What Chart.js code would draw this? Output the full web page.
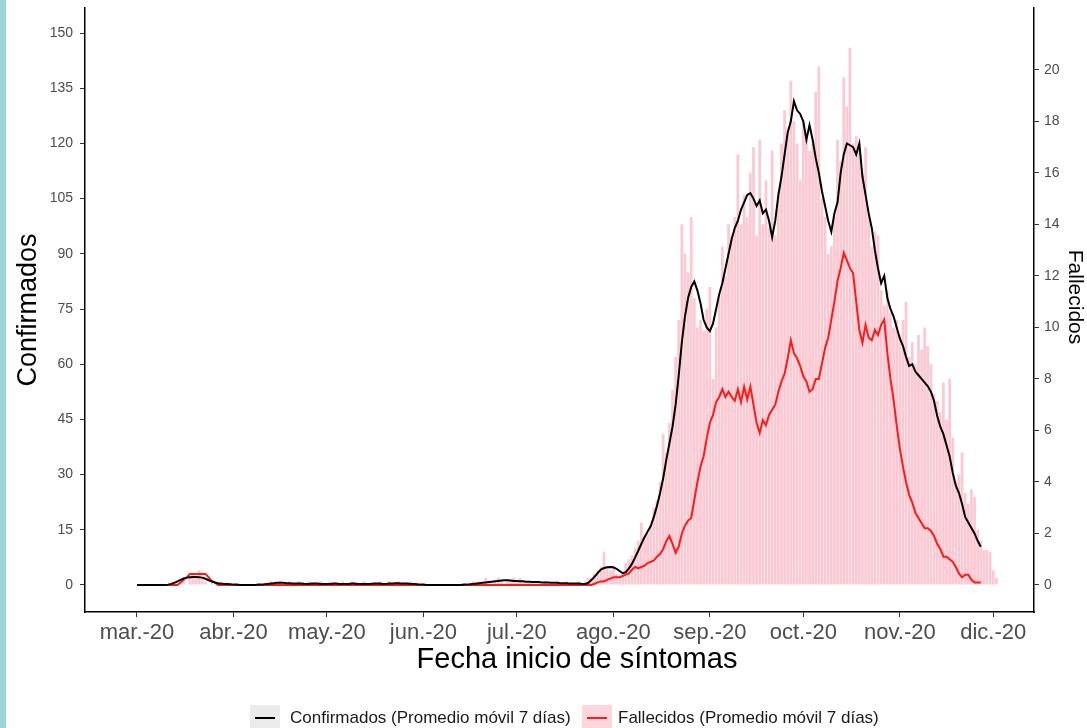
<!DOCTYPE html>
<html><head><meta charset="utf-8">
<script src="https://cdn.jsdelivr.net/npm/chart.js@4/dist/chart.umd.min.js"></script>
<style>
html,body{margin:0;padding:0;background:#fff;overflow:hidden}
#wrap{position:relative;width:1087px;height:728px}
#strip{position:absolute;left:0;top:0;width:6px;height:728px;background:#9dd3d5}
canvas{display:block}
</style></head><body>
<div id="wrap"><canvas id="c" width="1087" height="728"></canvas><div id="strip"></div></div>
<script>
// Day 0 = 2020-03-01
const monthLabels = ['mar.-20','abr.-20','may.-20','jun.-20','jul.-20','ago.-20','sep.-20','oct.-20','nov.-20','dic.-20'];
const monthStartDays = [0,31,61,92,122,153,184,214,245,275];
const leftTicks = [0,15,30,45,60,75,90,105,120,135,150];
const rightTicks = [0,2,4,6,8,10,12,14,16,18,20];
const legendLabels = ['Confirmados (Promedio móvil 7 días)','Fallecidos (Promedio móvil 7 días)'];
const xTitle = 'Fecha inicio de síntomas';
const yTitle = 'Confirmados';
const y2Title = 'Fallecidos';

// Confirmados, promedio móvil 7 días (por mes)
const confMar = [0,0,0,0,0,0,0,0,0,0,0.1,0.3,0.6,1.0,1.4,1.8,2.0,2.1,2.2,2.2,2.1,2.0,1.7,1.3,1.0,0.7,0.5,0.4,0.3,0.3,0.2];
const confApr = [0.1,0.1,0,0,0,0,0,0,0.1,0.1,0.2,0.3,0.4,0.5,0.6,0.6,0.6,0.5,0.5,0.4,0.4,0.4,0.4,0.3,0.3,0.4,0.4,0.4,0.3,0.3];
const confMay = [0.3,0.3,0.4,0.4,0.3,0.3,0.3,0.3,0.4,0.4,0.3,0.3,0.3,0.3,0.3,0.4,0.4,0.4,0.3,0.3,0.4,0.4,0.5,0.5,0.4,0.4,0.4,0.3,0.3,0.2,0.1];
const confJun = [0.1,0,0,0,0,0,0,0,0,0,0,0,0,0.1,0.1,0.2,0.3,0.4,0.5,0.6,0.7,0.8,0.9,1.0,1.1,1.2,1.3,1.3,1.2,1.1];
const confJul = [1.1,1.0,1.0,0.9,0.9,0.8,0.8,0.8,0.7,0.7,0.7,0.6,0.6,0.6,0.5,0.5,0.5,0.4,0.4,0.4,0.4,0.3,0.3,0.6,1.4,2.3,3.3,4.2,4.6,4.8,4.9];
const confAug = [4.8,4.4,3.8,3.2,3.5,4.5,5.8,7.5,9.3,11.2,13.0,14.5,16,18.5,21.5,25,29,34,38.5,43,49,57,66,73,78,81,82.5,80,76.5,72,70];
const confSep = [69,71,75,79,82,86,90,94,97,99,102,104,106,106.5,105,103,104.5,101,102,99,94.5,99,106,111,117,123,126,131.5,129,128];
const confOct = [126,121,125,121,116,112,107,103,99,96,101,104,112,117,120,119.5,119,117,120,111,106,101,97,91,86,82,84,78,75,73,70];
const confNov = [67,65,62,59.5,60,58,57,56,55,54,52.5,50,46,43,41,38,35,30.5,27,25,22,18.5,17,15.5,14,12,10.4];

// Fallecidos, promedio móvil 7 días (por mes)
const deadMar = [0,0,0,0,0,0,0,0,0,0,0,0,0,0,0.1,0.2,0.3,0.43,0.43,0.43,0.43,0.43,0.43,0.3,0.14,0.1,0,0,0,0,0];
const deadApr = [0,0,0,0,0,0,0,0,0,0,0,0,0,0,0,0,0,0,0,0,0,0,0,0,0,0,0,0,0,0];
const deadMay = [0,0,0,0,0,0,0,0,0,0,0,0,0,0,0,0,0,0,0,0,0,0,0,0,0,0,0,0,0,0,0];
const deadJun = [0,0,0,0,0,0,0,0,0,0,0,0,0,0,0,0,0,0,0,0,0,0,0,0,0,0,0,0,0,0];
const deadJul = [0,0,0,0,0,0,0,0,0,0,0,0,0,0,0,0,0,0,0,0,0,0,0,0,0,0.05,0.1,0.14,0.14,0.2,0.25];
const deadAug = [0.3,0.3,0.3,0.35,0.4,0.45,0.6,0.7,0.65,0.7,0.75,0.85,0.9,0.95,1.1,1.2,1.4,1.7,1.9,1.6,1.25,1.5,2.0,2.3,2.5,2.6,3.3,4.0,4.6,5.0,5.7];
const deadSep = [6.3,6.6,7.1,7.3,7.6,7.3,7.5,7.3,7.15,7.6,7.1,7.7,7.2,7.7,7.0,6.3,5.9,6.4,6.2,6.6,6.8,7.0,7.5,7.9,8.2,8.8,9.5,9.0,8.8,8.5];
const deadOct = [8.1,7.9,7.5,7.6,8.0,8.0,8.6,9.2,9.6,10.3,11.0,11.8,12.3,12.9,12.6,12.3,12.1,11.0,9.9,9.4,10.1,9.6,9.5,9.9,9.7,10.1,10.3,9.0,8.0,7.2,6.2];
const deadNov = [5.3,4.6,4.0,3.5,3.2,2.8,2.6,2.4,2.2,2.2,2.1,1.9,1.6,1.4,1.1,1.1,1.0,0.9,0.7,0.45,0.3,0.4,0.4,0.2,0.1,0.1,0.1];

// Barras diarias (eje izquierdo)
const barMar = [0,0,0,0,0,0,0,0,0,0,0,0,0,0,0,1,0,2,3,2,4,2,1,0,1,0,0,0,0,0,0];
const barApr = [0,0,0,0,0,0,0,0,0,0,0,0,1,0,1,1,0,0,1,0,0,1,0,0,1,0,0,0,1,0];
const barMay = [0,1,0,0,0,1,0,0,1,0,0,0,1,0,0,0,0,1,0,0,1,0,0,1,0,0,0,1,0,0,0];
const barJun = [0,0,0,0,0,0,0,0,0,0,0,0,0,0,0,0,1,0,1,0,2,1,0,1,2,1,0,1,1,2];
const barJul = [1,2,1,0,1,1,0,1,0,1,1,0,0,1,0,0,1,0,0,0,1,0,1,2,2,3,4,5,9,5,4];
const barAug = [5,3,2,3,6,7,8,10,12,17,13,14,16,21,23,28,41,36,44,53,62,72,98,90,85,100,78,70,72,69,75];
const barSep = [81,56,70,78,92,84,98,95,100,117,98,106,100,112,119,95,121,98,110,97,118,95,107,120,129,124,137,126,120,110];
const barOct = [126,122,118,120,134,141,105,100,90,92,100,121,115,138,130,146,120,122,118,112,119,100,92,96,95,80,76,80,74,70,72];
const barNov = [68,72,77,62,66,60,68,64,70,65,60,52,50,47,55,45,56,40,28,30,36,25,22,26,24,15,12,9.5,9.5,9];
const barDec = [4,2];

const confAvg = [].concat(confMar,confApr,confMay,confJun,confJul,confAug,confSep,confOct,confNov);
const deadAvg = [].concat(deadMar,deadApr,deadMay,deadJun,deadJul,deadAug,deadSep,deadOct,deadNov);
const dailyBars = [].concat(barMar,barApr,barMay,barJun,barJul,barAug,barSep,barOct,barNov,barDec);

const toPts = arr => arr.map((v,i)=>({x:i,y:v}));
const FONT = '"Liberation Sans", Arial, sans-serif';

const textPlugin = {
  id:'customText',
  afterDraw(chart){
    const ctx = chart.ctx;
    ctx.save();
    // x title
    ctx.fillStyle = '#000';
    ctx.textAlign = 'center';
    ctx.textBaseline = 'middle';
    ctx.font = '29px ' + FONT;
    ctx.fillText(xTitle, 577, 660);
    // right title (rotated)
    ctx.save();
    ctx.translate(1075, 297);
    ctx.rotate(Math.PI/2);
    ctx.font = '21px ' + FONT;
    ctx.fillText(y2Title, 0, 0);
    ctx.restore();
    // legend
    const y = 718;
    const items = [
      {label:legendLabels[0], color:'#000000', box:'#ebebeb', bx:250, tx:290},
      {label:legendLabels[1], color:'#ff1a1a', box:'#fbd6dd', bx:582, tx:618}
    ];
    ctx.font = '17px ' + FONT;
    ctx.textAlign = 'left';
    items.forEach(it=>{
      ctx.fillStyle = it.box;
      ctx.fillRect(it.bx, y-13, 30, 26);
      ctx.strokeStyle = it.color;
      ctx.lineWidth = 2;
      ctx.beginPath();
      ctx.moveTo(it.bx+5, y); ctx.lineTo(it.bx+25, y);
      ctx.stroke();
      ctx.fillStyle = '#1a1a1a';
      ctx.fillText(it.label, it.tx, y);
    });
    ctx.restore();
  }
};

new Chart(document.getElementById('c'), {
  type:'bar',
  data:{
    datasets:[
      {type:'line', label:legendLabels[0], data:toPts(confAvg), yAxisID:'y', borderColor:'#000000', borderWidth:2, pointRadius:0, tension:0, order:1},
      {type:'line', label:legendLabels[1], data:toPts(deadAvg), yAxisID:'y2', borderColor:'#ff1a1a', borderWidth:2, pointRadius:0, tension:0, order:2},
      {type:'bar', label:'Diarios', data:toPts(dailyBars), yAxisID:'y', backgroundColor:'#fcc9d3', borderWidth:0, barPercentage:0.88, categoryPercentage:1, order:3}
    ]
  },
  options:{
    responsive:false, animation:false, devicePixelRatio:1,
    layout:{padding:{top:8,bottom:55,left:0,right:0}},
    plugins:{legend:{display:false}, tooltip:{enabled:false}},
    scales:{
      x:{
        type:'linear', min:-16.7, max:288.1, offset:false,
        afterBuildTicks:s=>{ s.ticks = monthStartDays.map(v=>({value:v})); },
        afterFit:s=>{ s.height = 61; s.paddingLeft = 0; s.paddingRight = 0; },
        ticks:{callback:(v,i)=>monthLabels[i], font:{size:22,family:FONT}, color:'#4d4d4d', padding:3, maxRotation:0, autoSkip:false},
        grid:{drawOnChartArea:false, tickLength:5, color:'#333', lineWidth:1, offset:false},
        border:{display:true, color:'#000', width:1.5},
        title:{display:false}
      },
      y:{
        position:'left', min:-7.34, max:156.8,
        afterBuildTicks:s=>{ s.ticks = leftTicks.map(v=>({value:v})); },
        afterFit:s=>{ s.width = 85; s.paddingTop = 0; s.paddingBottom = 0; },
        ticks:{font:{size:14,family:FONT}, color:'#4d4d4d', padding:7},
        grid:{drawOnChartArea:false, tickLength:5, color:'#333', lineWidth:1},
        border:{display:true, color:'#000', width:1.5},
        title:{display:true, text:yTitle, font:{size:27,family:FONT}, color:'#000', padding:{top:12,bottom:0}}
      },
      y2:{
        position:'right', min:-7.34/7, max:156.8/7,
        afterBuildTicks:s=>{ s.ticks = rightTicks.map(v=>({value:v})); },
        afterFit:s=>{ s.width = 53; s.paddingTop = 0; s.paddingBottom = 0; },
        ticks:{font:{size:14,family:FONT}, color:'#4d4d4d', padding:5},
        grid:{drawOnChartArea:false, tickLength:5, color:'#333', lineWidth:1},
        border:{display:true, color:'#000', width:1.5},
        title:{display:false}
      }
    }
  },
  plugins:[textPlugin]
});
</script>
</body></html>
